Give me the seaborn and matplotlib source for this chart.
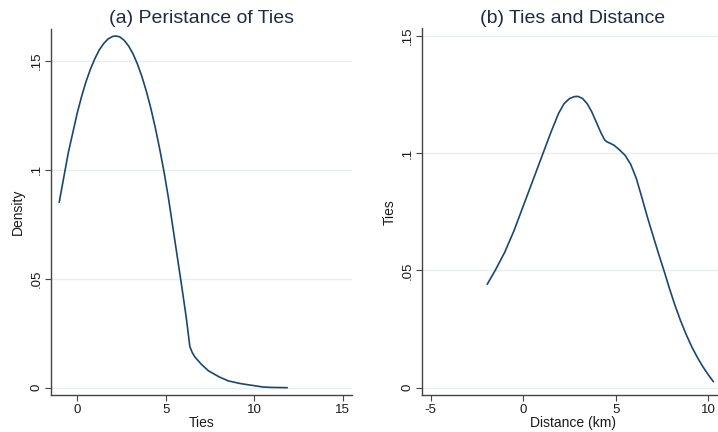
import matplotlib
matplotlib.use("Agg")
import matplotlib.pyplot as plt
import seaborn as sns
import pandas as pd

sns.set_style("white")
plt.rcParams['font.family'] = ['Liberation Sans', 'DejaVu Sans']

# Panel (a): Persistence of ties (density)
ties_x = [-1.02, -0.75, -0.5, -0.25, 0.0, 0.25, 0.5, 0.75, 1.0, 1.25, 1.5, 1.75, 2.0, 2.17,
          2.4, 2.65, 2.9, 3.15, 3.4, 3.65, 3.9, 4.15, 4.4, 4.65, 4.9, 5.15, 5.4, 5.65,
          5.9, 6.15, 6.36, 6.5, 6.65, 7.0, 7.4, 8.0, 8.53, 9.2, 9.76, 10.5, 11.0, 11.86]
ties_density = [0.0850, 0.0970, 0.1080, 0.1170, 0.1260, 0.1337, 0.1405, 0.1462, 0.1510,
                0.1550, 0.1579, 0.1600, 0.1611, 0.1613, 0.1609, 0.1593, 0.1567, 0.1531,
                0.1484, 0.1427, 0.1360, 0.1283, 0.1195, 0.1097, 0.0990, 0.0870, 0.0735,
                0.0600, 0.0465, 0.0325, 0.0188, 0.0160, 0.0140, 0.0108, 0.0078, 0.0050,
                0.0031, 0.0019, 0.0012, 0.0003, 0.0001, 0.0]

# Panel (b): Ties and distance
dist_x = [-1.95, -1.5, -1.0, -0.5, 0.0, 0.5, 1.0, 1.5, 1.9, 2.2, 2.5, 2.75, 2.95, 3.2,
          3.45, 3.7, 3.95, 4.2, 4.4, 4.51, 4.7, 4.9, 5.2, 5.5, 5.8, 6.1, 6.4, 6.7, 7.0,
          7.3, 7.6, 7.9, 8.2, 8.5, 8.8, 9.1, 9.4, 9.7, 10.0, 10.27]
dist_ties = [0.0441, 0.0503, 0.0578, 0.0670, 0.0775, 0.0880, 0.0985, 0.1090, 0.1168,
             0.1210, 0.1232, 0.1240, 0.1241, 0.1232, 0.1210, 0.1175, 0.1130, 0.1085,
             0.1055, 0.1048, 0.1041, 0.1033, 0.1013, 0.0990, 0.0952, 0.0893, 0.0812,
             0.0728, 0.0650, 0.0573, 0.0499, 0.0422, 0.0350, 0.0285, 0.0227, 0.0175,
             0.0130, 0.0090, 0.0055, 0.0026]

xticks_a = [0, 5, 10, 15]
xticks_b = [-5, 0, 5, 10]
yticks_a = [0, 0.05, 0.1, 0.15]
yticks_b = [0, 0.05, 0.1, 0.15]
ytick_labels = ["0", ".05", ".1", ".15"]

line_color = "#1a476f"
grid_color = "#e6eef0"
text_color = "#1a1a1a"
title_color = "#1e2a44"

fig = plt.figure(figsize=(7.18, 4.32), dpi=100)
W, H = 718, 432

def add_ax(left, right, top, bottom):
    return fig.add_axes([left / W, (H - bottom) / H, (right - left) / W, (bottom - top) / H])

ax1 = add_ax(50.7, 351.7, 29, 395.3)
ax2 = add_ax(422.3, 723, 28.3, 395.3)

df_a = pd.DataFrame({"Ties": ties_x, "Density": ties_density})
df_b = pd.DataFrame({"Distance (km)": dist_x, "Ties": dist_ties})

sns.lineplot(data=df_a, x="Ties", y="Density", ax=ax1, color=line_color, lw=1.2,
             sort=False, estimator=None)
sns.lineplot(data=df_b, x="Distance (km)", y="Ties", ax=ax2, color=line_color, lw=1.2,
             sort=False, estimator=None)

def style(ax, xlim, ylim, xticks, yticks, title, xlabel, ylabel):
    ax.set_xlim(*xlim)
    ax.set_ylim(*ylim)
    ax.set_xticks(xticks)
    ax.set_xticklabels([str(t) for t in xticks])
    ax.set_yticks(yticks)
    ax.set_yticklabels(ytick_labels, rotation=90, va="center")
    for y in yticks:
        ax.axhline(y, color=grid_color, lw=1.0, zorder=0)
    for s in ["top", "right"]:
        ax.spines[s].set_visible(False)
    for s in ["left", "bottom"]:
        ax.spines[s].set_color("#444444")
        ax.spines[s].set_linewidth(1.0)
    ax.tick_params(axis="both", which="major", direction="out", length=4, width=0.8,
                   color="#444444", labelsize=9.5, labelcolor=text_color, pad=2,
                   bottom=True, left=True)
    ax.set_title(title, fontsize=14, color=title_color, pad=4)
    ax.set_xlabel(xlabel, fontsize=10, color=text_color, labelpad=0)
    ax.set_ylabel(ylabel, fontsize=10, color=text_color, labelpad=4)

style(ax1, (-1.5, 15.5), (-0.0035, 0.1645), xticks_a, yticks_a,
      "(a) Peristance of Ties", "Ties", "Density")
style(ax2, (-5.46, 10.79), (-0.0032, 0.1531), xticks_b, yticks_b,
      "(b) Ties and Distance", "Distance (km)", "Ties")

fig.savefig("out.png", dpi=100, facecolor="white")
